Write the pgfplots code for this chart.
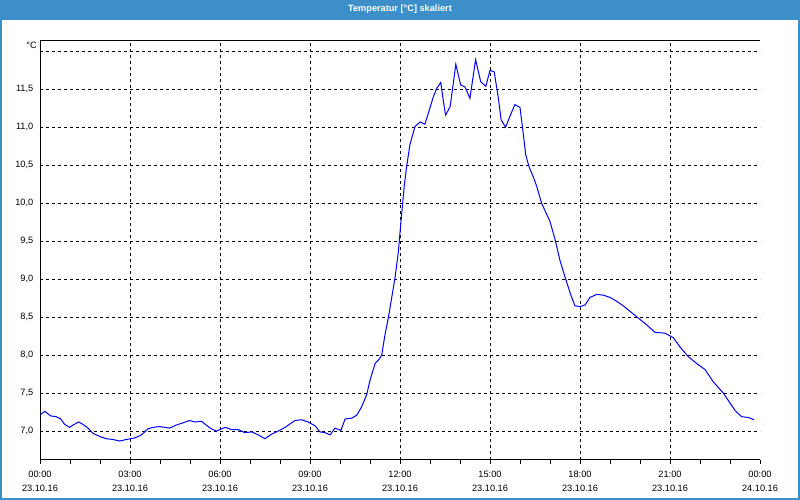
\documentclass[border=0pt]{standalone}
\usepackage{fontspec}
\setmainfont{Liberation Sans}
\usepackage{pgfplots}
\pgfplotsset{compat=1.18}

\definecolor{titlebar}{RGB}{60,143,200}
\definecolor{curve}{RGB}{0,0,255}

\begin{document}
\fontsize{9.2bp}{14bp}\selectfont
\begin{tikzpicture}
\path[use as bounding box] (0bp,0bp) rectangle (800bp,500bp);
\fill[white] (0bp,0bp) rectangle (800bp,500bp);
\fill[titlebar] (0bp,480bp) rectangle (800bp,500bp);
\draw[titlebar, line width=2bp] (1bp,1bp) rectangle (799bp,481bp);
\node[white, font=\fontsize{9.2bp}{11bp}\selectfont\bfseries] at (400bp,490.5bp) {Temperatur [°C] skaliert};

\begin{axis}[
    at={(40bp,40bp)}, anchor=south west,
    scale only axis, width=720bp, height=419.3bp,
    xmin=0, xmax=24, ymin=6.62, ymax=12.14,
    axis x line=bottom, axis y line=left,
    axis line style={-, black, line width=1bp},
    xtick={0,3,...,24},
    xticklabels={{00:00\\23.10.16},{03:00\\23.10.16},{06:00\\23.10.16},{09:00\\23.10.16},{12:00\\23.10.16},{15:00\\23.10.16},{18:00\\23.10.16},{21:00\\23.10.16},{00:00\\24.10.16}},
    xticklabel style={align=center, font=\fontsize{9.2bp}{14bp}\selectfont, yshift=-4bp},
    minor x tick num=2,
    tick align=outside,
    major tick length=4bp, minor tick length=4bp,
    x tick style={black, line width=1bp},
    extra x ticks={3,6,...,21}, extra x tick labels={},
    extra x tick style={grid=major, major tick length=0pt},
    ytick={7,7.5,...,11.5},
    extra y ticks={12}, extra y tick labels={},
    extra y tick style={grid=major},
    y tick style={draw=none},
    ymajorgrids,
    major grid style={black, line width=1bp, dash pattern=on 3bp off 3bp},
    yticklabel style={font=\fontsize{9.2bp}{11bp}\selectfont, xshift=0.5bp,
        /pgf/number format/.cd, fixed, fixed zerofill, precision=1, use comma},
    /pgf/number format/assume math mode=true,
    clip=false,
]
\addplot[curve, line width=1bp] coordinates {
(0.02,7.22) (0.16,7.26) (0.36,7.20) (0.54,7.19) (0.69,7.16) (0.82,7.09)
(0.99,7.05) (1.10,7.08) (1.29,7.12) (1.43,7.09) (1.60,7.04) (1.77,6.97)
(1.99,6.93) (2.21,6.90) (2.43,6.89) (2.66,6.87) (2.88,6.89) (3.16,6.91)
(3.38,6.95) (3.60,7.03) (3.77,7.05) (3.99,7.06) (4.32,7.04) (4.54,7.08)
(4.77,7.11) (4.99,7.14) (5.16,7.12) (5.38,7.13) (5.54,7.08) (5.71,7.03)
(5.88,7.00) (6.17,7.05) (6.39,7.02) (6.61,7.02) (6.83,6.98) (7.06,6.99)
(7.28,6.95) (7.50,6.90) (7.72,6.96) (7.94,7.00) (8.17,7.05) (8.50,7.14)
(8.72,7.15) (8.94,7.12) (9.17,7.07) (9.33,6.99) (9.50,6.98) (9.67,6.95)
(9.83,7.04) (10.03,7.01) (10.17,7.16) (10.39,7.17) (10.56,7.21) (10.72,7.32)
(10.89,7.48) (11.00,7.67) (11.17,7.89) (11.33,7.96) (11.39,8.00) (11.50,8.27)
(11.61,8.49) (11.72,8.75) (11.83,9.01) (11.94,9.34) (12.03,9.75) (12.14,10.22)
(12.22,10.48) (12.33,10.77) (12.50,11.01) (12.67,11.07) (12.83,11.04) (12.94,11.18)
(13.11,11.40) (13.22,11.51) (13.36,11.59) (13.44,11.36) (13.52,11.16) (13.67,11.27)
(13.76,11.53) (13.86,11.83) (14.02,11.56) (14.17,11.53) (14.33,11.38) (14.42,11.62)
(14.52,11.89) (14.69,11.60) (14.86,11.54) (15.00,11.75) (15.14,11.73) (15.28,11.38)
(15.37,11.10) (15.52,11.00) (15.67,11.15) (15.83,11.30) (16.00,11.26) (16.08,11.01)
(16.19,10.64) (16.30,10.48) (16.44,10.35) (16.56,10.22) (16.72,10.00) (17.00,9.76)
(17.17,9.52) (17.33,9.25) (17.50,9.03) (17.67,8.82) (17.83,8.65) (18.00,8.64)
(18.17,8.66) (18.33,8.76) (18.56,8.80) (18.78,8.79) (19.00,8.76) (19.22,8.71)
(19.44,8.65) (19.72,8.56) (19.94,8.49) (20.22,8.40) (20.50,8.30) (20.83,8.29)
(21.11,8.23) (21.33,8.11) (21.61,7.98) (21.89,7.89) (22.17,7.81) (22.44,7.65)
(22.78,7.50) (23.00,7.37) (23.17,7.27) (23.39,7.19) (23.61,7.18) (23.80,7.15)
};
% top frame line and unit label
\draw[black, line width=1bp] (rel axis cs:0,1) -- (rel axis cs:1,1);
\node[anchor=east, inner sep=0pt, font=\fontsize{9.2bp}{11bp}\selectfont] at (rel axis cs:0,1) [xshift=-3bp, yshift=-4.5bp] {°C};
\end{axis}
\end{tikzpicture}
\end{document}
